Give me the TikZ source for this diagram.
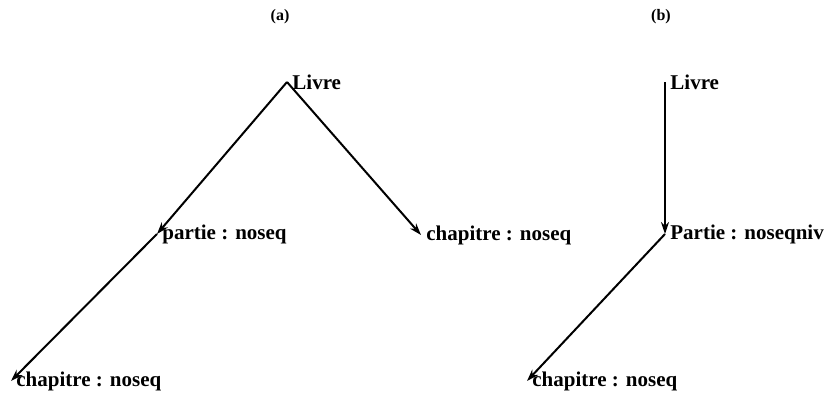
\documentclass[tikz,border=0pt]{standalone}
\usepackage{fontspec}
\setmainfont{Liberation Serif}
\usetikzlibrary{arrows.meta}

\begin{document}
\begin{tikzpicture}[
  x=0.5pt,y=-0.5pt,
  word/.style={anchor=west,inner xsep=2.5pt,inner ysep=1pt,font=\bfseries\fontsize{10.5}{12}\selectfont},
  tag/.style={inner sep=1pt,font=\bfseries\fontsize{8}{10}\selectfont},
  arrow/.style={-{Stealth[length=6pt,width=4pt]},line width=1pt}
]
\useasboundingbox (0,0) rectangle (824,396);
% tree (a)
\node[tag] (taga) at (280,17) {(a)};
\node[word] (livreA) at (287,82) {Livre};
\node[word] (partieA) at (157,234) {partie : noseq};
\node[word] (chapA) at (421,235) {chapitre : noseq};
\node[word] (chapAA) at (11,381) {chapitre : noseq};
\draw[arrow] (livreA.west) -- (partieA.west);
\draw[arrow] (livreA.west) -- (chapA.west);
\draw[arrow] (partieA.west) -- (chapAA.west);
% tree (b)
\node[tag] (tagb) at (661,17) {(b)};
\node[word] (livreB) at (665,82) {Livre};
\node[word] (partieB) at (665,234) {Partie : noseqniv};
\node[word] (chapB) at (527,381) {chapitre : noseq};
\draw[arrow] (livreB.west) -- (partieB.west);
\draw[arrow] (partieB.west) -- (chapB.west);
\end{tikzpicture}
\end{document}
